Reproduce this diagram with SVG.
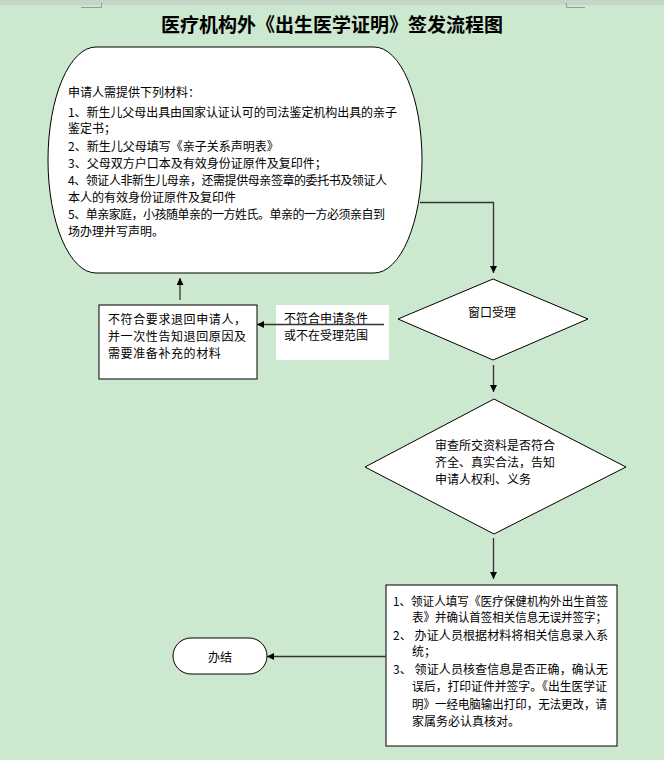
<svg xmlns="http://www.w3.org/2000/svg" width="664" height="760" viewBox="0 0 664 760">
<defs>
<style>
.t{font-family:"Noto Sans CJK SC","Noto Sans CJK JP",sans-serif;font-size:12px;fill:#000}
.rj{letter-spacing:0.6px}
.title{font-family:"Noto Sans CJK SC","Noto Sans CJK JP",sans-serif;font-size:19px;font-weight:bold;fill:#000}
.shape{fill:#fff;stroke:#000;stroke-width:1}
.conn{fill:none;stroke:#333;stroke-width:1.3}
</style>
<marker id="arr" viewBox="0 0 10 10" refX="10" refY="5" markerWidth="8" markerHeight="7" orient="auto" markerUnits="userSpaceOnUse">
<path d="M0,0 L10,5 L0,10 z" fill="#000"/>
</marker>
</defs>
<rect x="0" y="0" width="664" height="760" fill="#CCE8CF"/>
<rect x="0" y="0" width="664" height="5" fill="#C4D6C5"/>
<path d="M81,7.5 H101.5 V3" fill="none" stroke="#999" stroke-width="1"/>
<path d="M566.5,3 V7.5 H585" fill="none" stroke="#999" stroke-width="1"/>
<text class="title" x="332" y="32" text-anchor="middle">医疗机构外《出生医学证明》签发流程图</text>

<g id="materials">
<rect class="shape" x="48" y="47" width="374" height="226" rx="48" ry="113"/>
<text class="t" x="68" y="97">申请人需提供下列材料：</text>
<text class="t" x="68" y="116.5" textLength="329" lengthAdjust="spacing">1、新生儿父母出具由国家认证认可的司法鉴定机构出具的亲子</text>
<text class="t" x="68" y="133">鉴定书；</text>
<text class="t" x="68" y="150.5">2、新生儿父母填写《亲子关系声明表》</text>
<text class="t" x="68" y="167.5">3、父母双方户口本及有效身份证原件及复印件；</text>
<text class="t" x="68" y="185" textLength="319" lengthAdjust="spacing">4、领证人非新生儿母亲，还需提供母亲签章的委托书及领证人</text>
<text class="t" x="68" y="201.5">本人的有效身份证原件及复印件</text>
<text class="t" x="68" y="219" textLength="317" lengthAdjust="spacing">5、单亲家庭，小孩随单亲的一方姓氏。单亲的一方必须亲自到</text>
<text class="t" x="68" y="235.5">场办理并写声明。</text>
</g>

<g id="window">
<polygon class="shape" points="493,279 588,319 493,360 398,319"/>
<text class="t" x="492" y="316.5" text-anchor="middle">窗口受理</text>
</g>

<g id="reject">
<rect class="shape" x="99" y="305" width="158" height="74"/>
<text class="t rj" x="108" y="323.5">不符合要求退回申请人，</text>
<text class="t rj" x="108" y="340.5">并一次性告知退回原因及</text>
<text class="t rj" x="108" y="357.5">需要准备补充的材料</text>
</g>

<g id="review">
<polygon class="shape" points="494,399 626,467 494,534 365,467"/>
<text class="t" x="435" y="449.5">审查所交资料是否符合</text>
<text class="t" x="435" y="467">齐全、真实合法，告知</text>
<text class="t" x="435" y="484">申请人权利、义务</text>
</g>

<g id="process">
<rect class="shape" x="386" y="585" width="231" height="161"/>
<text class="t" x="393" y="605.5" textLength="215" lengthAdjust="spacingAndGlyphs">1、领证人填写《医疗保健机构外出生首签</text>
<text class="t" x="412" y="621.5" textLength="195" lengthAdjust="spacingAndGlyphs">表》并确认首签相关信息无误并签字；</text>
<text class="t" x="393" y="639.5" textLength="215" lengthAdjust="spacing">2、 办证人员根据材料将相关信息录入系</text>
<text class="t" x="412" y="655.5">统；</text>
<text class="t" x="393" y="674" textLength="215" lengthAdjust="spacing">3、 领证人员核查信息是否正确，确认无</text>
<text class="t" x="412" y="691" textLength="195" lengthAdjust="spacingAndGlyphs">误后，打印证件并签字。《出生医学证</text>
<text class="t" x="412" y="709" textLength="195" lengthAdjust="spacingAndGlyphs">明》一经电脑输出打印，无法更改，请</text>
<text class="t" x="412" y="726">家属务必认真核对。</text>
</g>

<g id="done">
<rect class="shape" x="173" y="638" width="94" height="36" rx="18" ry="18"/>
<text class="t" x="220" y="661.5" text-anchor="middle">办结</text>
</g>

<g id="connectors">
<polyline class="conn" points="420,202.5 493.5,202.5 493.5,273" marker-end="url(#arr)"/>
<line class="conn" x1="493.5" y1="365" x2="493.5" y2="392" marker-end="url(#arr)"/>
<line class="conn" x1="493.5" y1="538" x2="493.5" y2="579" marker-end="url(#arr)"/>
<line class="conn" x1="386" y1="656.5" x2="267" y2="656.5" marker-end="url(#arr)"/>
<line class="conn" x1="180" y1="300" x2="180" y2="278" marker-end="url(#arr)"/>
<rect x="276" y="305" width="113" height="55" fill="#fff"/>
<line class="conn" x1="384" y1="324.5" x2="257" y2="324.5" marker-end="url(#arr)"/>
<text class="t" x="284" y="322.5">不符合申请条件</text>
<text class="t" x="284" y="339.5">或不在受理范围</text>
</g>
</svg>
